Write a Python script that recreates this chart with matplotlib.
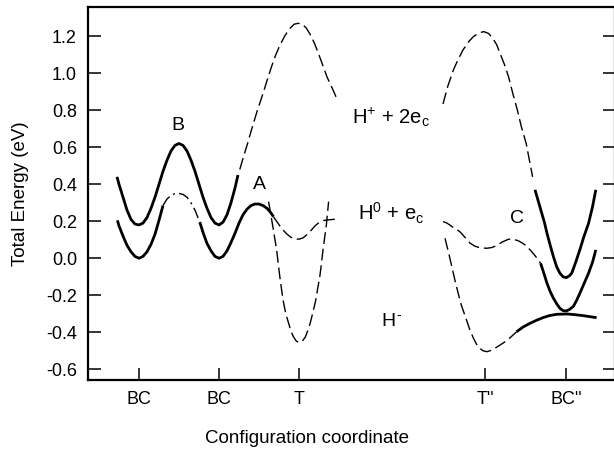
import matplotlib
matplotlib.use("Agg")
import matplotlib.pyplot as plt

plt.rcParams['font.family'] = ['Liberation Sans', 'DejaVu Sans']
plt.rcParams['mathtext.fontset'] = 'custom'
plt.rcParams['mathtext.rm'] = 'Liberation Sans'
plt.rcParams['mathtext.it'] = 'Liberation Sans'
plt.rcParams['mathtext.bf'] = 'Liberation Sans'

# ---------------- data (configuration coordinate, energy in eV) ----------------
xtick_pos = [0, 1, 2, 4.33, 5.34]
xtick_labels = ['BC', 'BC', 'T', "T''", "BC''"]
ytick_vals = [1.2, 1.0, 0.8, 0.6, 0.4, 0.2, 0.0, -0.2, -0.4, -0.6]
ytick_labels = ['1.2', '1.0', '0.8', '0.6', '0.4', '0.2', '0.0', '-0.2', '-0.4', '-0.6']

# H+ + 2e_c curve
hp_solid1_x = [-0.275, -0.25, -0.2, -0.15, -0.1, -0.05, 0, 0.05, 0.1, 0.15, 0.2, 0.25, 0.3, 0.35, 0.4,
               0.45, 0.5, 0.55, 0.6, 0.65, 0.7, 0.75, 0.8, 0.85, 0.9, 0.95, 1.0, 1.05, 1.1, 1.15,
               1.2, 1.2375]
hp_solid1_y = [0.44, 0.40, 0.33, 0.26, 0.21, 0.185, 0.18, 0.19, 0.22, 0.27, 0.33, 0.40, 0.47, 0.53, 0.58,
               0.61, 0.62, 0.61, 0.58, 0.53, 0.47, 0.40, 0.33, 0.27, 0.22, 0.19, 0.18, 0.195, 0.235, 0.30,
               0.38, 0.45]
hp_dash1_x = [1.26, 1.3, 1.35, 1.41, 1.48, 1.55, 1.6, 1.66, 1.71, 1.76, 1.82, 1.88, 1.94, 1.99, 2.04,
              2.09, 2.14, 2.19, 2.24, 2.3, 2.35, 2.42, 2.48]
hp_dash1_y = [0.48, 0.54, 0.61, 0.70, 0.80, 0.89, 0.96, 1.04, 1.10, 1.15, 1.20, 1.24, 1.265, 1.27, 1.265,
              1.245, 1.21, 1.165, 1.11, 1.04, 0.98, 0.915, 0.855]
hp_dash2_x = [3.80, 3.86, 3.93, 3.99, 4.05, 4.12, 4.18, 4.25, 4.31, 4.37, 4.42, 4.47, 4.52, 4.57, 4.62,
              4.67, 4.73, 4.78, 4.84, 4.88, 4.92]
hp_dash2_y = [0.834, 0.93, 1.018, 1.075, 1.126, 1.17, 1.198, 1.218, 1.225, 1.215, 1.19, 1.155, 1.10, 1.045,
              0.98, 0.895, 0.80, 0.71, 0.62, 0.53, 0.44]
hp_solid2_x = [4.95, 4.99, 5.03, 5.07, 5.10, 5.14, 5.18, 5.22, 5.26, 5.30, 5.34, 5.38, 5.41, 5.46, 5.51,
               5.56, 5.62, 5.67, 5.71]
hp_solid2_y = [0.37, 0.31, 0.25, 0.19, 0.135, 0.07, 0.009, -0.045, -0.08, -0.10, -0.105, -0.095, -0.08,
               -0.02, 0.045, 0.115, 0.19, 0.28, 0.37]

# H0 + e_c curve
h0_solid1_x = [-0.27, -0.25, -0.2, -0.15, -0.1, -0.05, 0, 0.05, 0.1, 0.15, 0.2, 0.25, 0.3]
h0_solid1_y = [0.205, 0.175, 0.12, 0.07, 0.035, 0.01, 0.0, 0.01, 0.035, 0.075, 0.13, 0.205, 0.285]
h0_dash1_x = [0.3, 0.35, 0.4, 0.45, 0.5, 0.55, 0.6, 0.65, 0.7, 0.76]
h0_dash1_y = [0.285, 0.32, 0.34, 0.35, 0.35, 0.345, 0.33, 0.30, 0.26, 0.195]
h0_solid2_x = [0.76, 0.8, 0.85, 0.9, 0.95, 1.0, 1.05, 1.1, 1.15, 1.2, 1.25, 1.3, 1.35, 1.4, 1.45, 1.5,
               1.55, 1.6, 1.65, 1.68]
h0_solid2_y = [0.195, 0.14, 0.08, 0.04, 0.01, 0.0, 0.01, 0.04, 0.085, 0.135, 0.19, 0.235, 0.265, 0.285,
               0.293, 0.293, 0.285, 0.27, 0.245, 0.225]
h0_dash2_x = [1.68, 1.72, 1.76, 1.8, 1.85, 1.9, 1.95, 2.0, 2.05, 2.1, 2.15, 2.2, 2.25, 2.3, 2.35, 2.43, 2.51]
h0_dash2_y = [0.225, 0.20, 0.175, 0.153, 0.13, 0.113, 0.105, 0.103, 0.11, 0.128, 0.15, 0.175, 0.193,
              0.203, 0.207, 0.21, 0.212]
h0_dash3_x = [3.80, 3.85, 3.90, 3.95, 4.01, 4.07, 4.14, 4.2, 4.27, 4.35, 4.41, 4.47, 4.54, 4.62, 4.68,
              4.74, 4.8, 4.85, 4.9, 4.96, 5.02]
h0_dash3_y = [0.198, 0.19, 0.175, 0.16, 0.144, 0.115, 0.081, 0.065, 0.056, 0.054, 0.058, 0.068, 0.088,
              0.103, 0.102, 0.095, 0.08, 0.063, 0.04, 0.009, -0.027]
h0_solid3_x = [5.02, 5.06, 5.10, 5.14, 5.18, 5.22, 5.26, 5.30, 5.34, 5.38, 5.43, 5.47, 5.51, 5.56, 5.62,
               5.67, 5.71]
h0_solid3_y = [-0.027, -0.08, -0.135, -0.18, -0.216, -0.245, -0.27, -0.283, -0.285, -0.277, -0.26, -0.228,
               -0.19, -0.14, -0.08, -0.02, 0.045]

# H- curve
hm_dash1_x = [1.62, 1.65, 1.68, 1.72, 1.76, 1.80, 1.835, 1.87, 1.9, 1.93, 1.965, 2.0, 2.04, 2.08, 2.11,
              2.14, 2.175, 2.21, 2.235, 2.26, 2.28, 2.30, 2.32, 2.34, 2.37]
hm_dash1_y = [0.306, 0.23, 0.153, 0.045, -0.099, -0.225, -0.30, -0.351, -0.395, -0.424, -0.447, -0.456,
              -0.449, -0.425, -0.39, -0.351, -0.29, -0.225, -0.16, -0.099, -0.03, 0.045, 0.11, 0.171, 0.306]
hm_dash2_x = [3.825, 3.87, 3.91, 3.95, 3.99, 4.03, 4.08, 4.13, 4.18, 4.22, 4.26, 4.3, 4.35, 4.4, 4.45,
              4.51, 4.58, 4.65, 4.72]
hm_dash2_y = [0.108, 0.03, -0.045, -0.12, -0.19, -0.255, -0.316, -0.38, -0.432, -0.465, -0.486, -0.5,
              -0.505, -0.498, -0.486, -0.47, -0.45, -0.425, -0.397]
hm_solid_x = [4.72, 4.8, 4.89, 4.97, 5.05, 5.13, 5.22, 5.35, 5.45, 5.55, 5.64, 5.72]
hm_solid_y = [-0.397, -0.372, -0.351, -0.335, -0.321, -0.31, -0.303, -0.301, -0.305, -0.31, -0.316, -0.321]

# ---------------- figure ----------------
fig = plt.figure(figsize=(6.14, 4.51), dpi=100)
ax = fig.add_axes([88 / 614, (451 - 380) / 451, (615 - 88) / 614, (380 - 7) / 451])

SOL = dict(color='black', lw=2.0, solid_capstyle='butt', solid_joinstyle='round')
DSH = dict(color='black', lw=1.0, dashes=(8.5, 3.5))

ax.plot(hp_solid1_x, hp_solid1_y, **SOL)
ax.plot(hp_dash1_x, hp_dash1_y, **DSH)
ax.plot(hp_dash2_x, hp_dash2_y, **DSH)
ax.plot(hp_solid2_x, hp_solid2_y, **SOL)

ax.plot(h0_solid1_x, h0_solid1_y, **SOL)
ax.plot(h0_dash1_x, h0_dash1_y, color='black', lw=1.0, dashes=(8, 3, 1.5, 3))
ax.plot(h0_solid2_x, h0_solid2_y, **SOL)
ax.plot(h0_dash2_x, h0_dash2_y, **DSH)
ax.plot(h0_dash3_x, h0_dash3_y, **DSH)
ax.plot(h0_solid3_x, h0_solid3_y, **SOL)

ax.plot(hm_dash1_x, hm_dash1_y, **DSH)
ax.plot(hm_dash2_x, hm_dash2_y, **DSH)
ax.plot(hm_solid_x, hm_solid_y, **SOL)

ax.set_xlim(-0.6375, 5.95)
ax.set_ylim(-0.658, 1.358)

ax.set_xticks(xtick_pos)
ax.set_xticklabels(xtick_labels)
ax.set_yticks(ytick_vals)
ax.set_yticklabels(ytick_labels)
ax.tick_params(axis='both', direction='in', length=9, width=1.1, labelsize=13)
ax.tick_params(axis='y', right=True, pad=8)
ax.tick_params(axis='x', pad=8)

for s in ['left', 'bottom', 'top', 'right']:
    ax.spines[s].set_linewidth(1.6)

ax.set_xlabel('Configuration coordinate', fontsize=13.5)
ax.xaxis.set_label_coords(0.4156, -0.133)
ax.set_ylabel('Total Energy (eV)', fontsize=13.5)
ax.yaxis.set_label_coords(-0.112, 0.50)

tk = dict(fontsize=14, ha='center', va='center')
ax.text(0.49, 0.715, 'B', **tk)
ax.text(1.50, 0.40, 'A', **tk)
ax.text(4.72, 0.216, 'C', **tk)
ax.text(2.66, 0.76, r'H$^{+}$ + 2e$_{\rm c}$', fontsize=14.5, ha='left', va='center')
ax.text(2.74, 0.245, r'H$^{0}$ + e$_{\rm c}$', fontsize=14.5, ha='left', va='center')
ax.text(3.03, -0.343, 'H', fontsize=14, ha='left', va='center')
ax.annotate('-', xy=(3.03, -0.343), xytext=(10.5, 5), textcoords='offset points',
            fontsize=10, ha='left', va='center')

fig.savefig('out.png', dpi=100)
